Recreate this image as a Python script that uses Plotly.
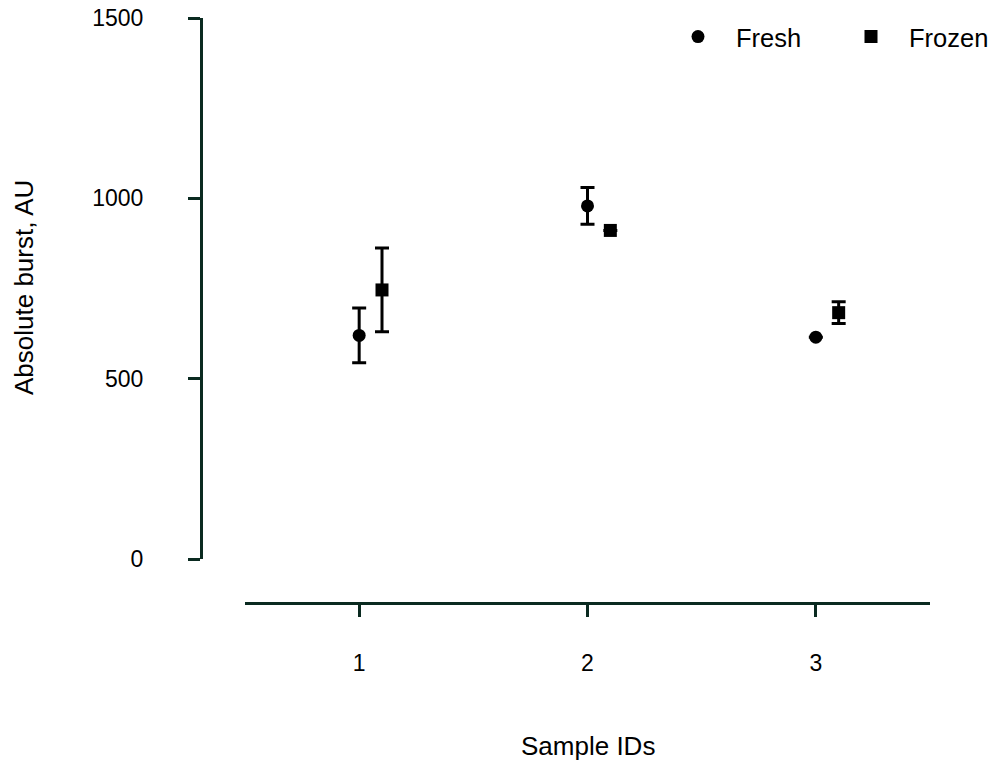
import plotly.graph_objects as go

samples = [1, 2, 3]
fresh_mean = [620, 979, 615]
fresh_err = [76, 51, 0]
frozen_mean = [746, 911, 683]
frozen_err = [116, 0, 30]
y_ticks = [0, 500, 1000, 1500]
offset = 0.1

AX = "#0a2a20"
FONT = "Arial, 'Liberation Sans', sans-serif"

W, H = 995, 763
L, R, T, B = 201, 0, 0, 160
pw, ph = W - L - R, H - T - B

def px_x(p):
    return (p - L) / pw

def px_y(p):
    return (H - B - p) / ph

fig = go.Figure()
fig.add_trace(go.Scatter(
    x=samples, y=fresh_mean, mode="markers", name="Fresh",
    marker=dict(symbol="circle", size=13, color="black"),
    error_y=dict(type="data", array=fresh_err, visible=True, color="black", thickness=3, width=7),
))
fig.add_trace(go.Scatter(
    x=[s + offset for s in samples], y=frozen_mean, mode="markers", name="Frozen",
    marker=dict(symbol="square", size=13, color="black"),
    error_y=dict(type="data", array=frozen_err, visible=True, color="black", thickness=3, width=7),
))

fig.update_layout(
    width=W, height=H,
    margin=dict(l=L, r=R, t=T, b=B, pad=0, autoexpand=False),
    paper_bgcolor="white", plot_bgcolor="white",
    font=dict(family=FONT, size=23, color="black"),
    showlegend=True,
    legend=dict(orientation="h", x=px_x(660), y=px_y(37), xanchor="left", yanchor="middle",
                font=dict(size=25.5), itemwidth=66, entrywidth=92, bgcolor="rgba(0,0,0,0)"),
    xaxis=dict(
        domain=[px_x(245), px_x(930)], range=[0.5, 3.5], anchor="free", position=0,
        tickvals=samples, ticktext=[str(s) for s in samples],
        showline=True, linecolor=AX, linewidth=3,
        ticks="outside", ticklen=12, tickwidth=3, tickcolor=AX,
        ticklabelstandoff=26, showgrid=False, zeroline=False,
    ),
    yaxis=dict(
        domain=[px_y(559), px_y(18)], range=[0, 1500], anchor="free", position=0,
        tickvals=y_ticks,
        showline=True, linecolor=AX, linewidth=3,
        ticks="outside", ticklen=12, tickwidth=3, tickcolor=AX,
        ticklabelstandoff=40, showgrid=False, zeroline=False,
    ),
    annotations=[
        dict(text="Sample IDs", xref="paper", yref="paper", x=px_x(588), y=px_y(746),
             showarrow=False, xanchor="center", yanchor="middle", font=dict(size=26)),
        dict(text="Absolute burst, AU", xref="paper", yref="paper", x=px_x(24), y=px_y(288),
             showarrow=False, textangle=-90, xanchor="center", yanchor="middle", font=dict(size=26)),
    ],
)

fig.write_html("out.html")
